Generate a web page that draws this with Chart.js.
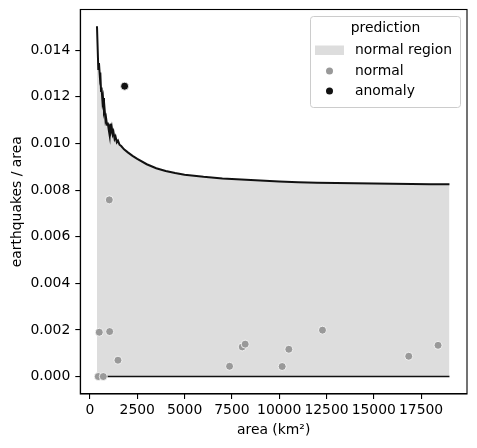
<!DOCTYPE html>
<html>
<head>
<meta charset="utf-8">
<script src="https://cdn.jsdelivr.net/npm/chart.js@4.4.1/dist/chart.umd.min.js"></script>
<style>
  body { margin: 0; background: #fff; }
</style>
</head>
<body>
<canvas id="myChart" width="477" height="448"></canvas>
<script>
// upper edge of the normal region (area, earthquakes / area)
const boundArea = [370, 440, 475, 520, 545, 585, 610, 660, 690, 740, 770, 820, 850, 900, 940, 990,
  1040, 1070, 1110, 1150, 1200, 1240, 1300, 1350, 1420, 1480, 1560, 1650, 1800, 2000, 2250, 2500,
  3000, 3500, 4000, 4500, 5000, 6000, 7000, 8000, 9000, 10000, 11000, 12000, 13000, 14000, 15000,
  16000, 17000, 18000, 19000];
const boundUpper = [0.01503, 0.0132, 0.01345, 0.0129, 0.01305, 0.01225, 0.0124, 0.0118, 0.01195,
  0.0114, 0.0115, 0.011, 0.0111, 0.0108, 0.0109, 0.0106, 0.01035, 0.01085, 0.01055, 0.0107, 0.0104,
  0.0105, 0.0102, 0.0103, 0.01005, 0.01012, 0.00995, 0.00989, 0.00975, 0.00962, 0.00947, 0.00934,
  0.00911, 0.00894, 0.00882, 0.00873, 0.00866, 0.00857, 0.0085, 0.00845, 0.00841, 0.00837, 0.00834,
  0.00832, 0.0083, 0.00829, 0.00828, 0.00827, 0.00826, 0.00825, 0.00825];
const lowerArea = [370, 19000];
const lowerValue = [0, 0];

const normalArea = [438, 703, 491, 1040, 1020, 1479, 7378, 8045, 8203, 10158, 10511, 12290, 16849, 18397];
const normalValue = [0, 0, 0.0019, 0.00193, 0.00758, 0.0007, 0.00044, 0.00127, 0.00139, 0.00043,
  0.00117, 0.00199, 0.00087, 0.00134];
const anomalyArea = [1831];
const anomalyValue = [0.01246];

const xTicks = [0, 2500, 5000, 7500, 10000, 12500, 15000, 17500];
const yTicks = [0, 0.002, 0.004, 0.006, 0.008, 0.01, 0.012, 0.014];

const toPoints = (xs, ys) => xs.map((x, i) => ({ x: x, y: ys[i] }));

const FONT = "'DejaVu Sans', sans-serif";
Chart.defaults.font.family = FONT;
Chart.defaults.font.size = 13.9;
Chart.defaults.color = "#000";

// full box round the axes
const frame = {
  id: "frame",
  afterDatasetsDraw(chart) {
    const a = chart.chartArea;
    const c = chart.ctx;
    c.save();
    c.strokeStyle = "#000";
    c.lineWidth = 1.1;
    c.strokeRect(a.left, a.top, a.right - a.left, a.bottom - a.top);
    c.restore();
  },
};

// legend inside the plot, top right
const legendBox = {
  id: "legendBox",
  afterDraw(chart) {
    const c = chart.ctx;
    const ds = chart.data.datasets;
    const x0 = 310.5, y0 = 16.5, w = 150, h = 91;
    c.save();
    c.fillStyle = "rgba(255,255,255,0.8)";
    c.strokeStyle = "#cccccc";
    c.lineWidth = 1;
    c.beginPath();
    c.roundRect(x0, y0, w, h, 3);
    c.fill();
    c.stroke();

    c.font = "13.9px " + FONT;
    c.fillStyle = "#000";
    c.textBaseline = "middle";
    c.textAlign = "center";
    c.fillText("prediction", x0 + w / 2, 28.5);

    c.textAlign = "left";
    // normal region patch
    c.fillStyle = ds[2].backgroundColor;
    c.fillRect(315, 45.5, 29, 9.5);
    c.fillStyle = "#000";
    c.fillText(ds[2].label, 355, 50);
    // normal / anomaly markers
    [[0, 71], [1, 91]].forEach(([i, y]) => {
      c.beginPath();
      c.arc(329.5, y, 3.5, 0, Math.PI * 2);
      c.fillStyle = ds[i].backgroundColor;
      c.fill();
      c.fillStyle = "#000";
      c.fillText(ds[i].label, 355, y);
    });
    c.restore();
  },
};

const ctx = document.getElementById("myChart").getContext("2d");

const myChart = new Chart(ctx, {
  type: "scatter",
  data: {
    datasets: [
      {
        label: "normal",
        data: toPoints(normalArea, normalValue),
        backgroundColor: "#999999",
        borderColor: "#ffffff",
        borderWidth: 0.8,
        pointRadius: 4,
        order: 0,
      },
      {
        label: "anomaly",
        data: toPoints(anomalyArea, anomalyValue),
        backgroundColor: "#111111",
        borderColor: "#ffffff",
        borderWidth: 0.8,
        pointRadius: 4,
        order: 0,
      },
      {
        type: "line",
        label: "normal region",
        data: toPoints(boundArea, boundUpper),
        borderColor: "#111111",
        backgroundColor: "#dddddd",
        borderWidth: 2,
        pointRadius: 0,
        tension: 0,
        fill: "origin",
        order: 2,
      },
      {
        type: "line",
        label: "lower",
        data: toPoints(lowerArea, lowerValue),
        borderColor: "#111111",
        borderWidth: 1.5,
        pointRadius: 0,
        fill: false,
        order: 1,
      },
    ],
  },
  options: {
    responsive: false,
    animation: false,
    events: [],
    layout: { padding: { top: 9.5, right: 10, left: 0, bottom: 0 } },
    plugins: {
      legend: { display: false },
      tooltip: { enabled: false },
    },
    scales: {
      x: {
        type: "linear",
        min: -512,
        max: 19928,
        afterBuildTicks: (s) => { s.ticks = xTicks.map((v) => ({ value: v })); },
        afterFit: (s) => { s.height = 54; s.paddingLeft = 0; s.paddingRight = 0; },
        ticks: { callback: (v) => String(v), padding: 3.4, maxRotation: 0, autoSkip: false },
        grid: { drawOnChartArea: false, tickLength: 5, color: "#000", lineWidth: 1.1 },
        border: { color: "#000", width: 1.1 },
        title: { display: true, text: "area (km²)", padding: { top: 0, bottom: 9.7 } },
      },
      y: {
        min: -0.00075,
        max: 0.01575,
        afterBuildTicks: (s) => { s.ticks = yTicks.map((v) => ({ value: v })); },
        afterFit: (s) => { s.width = 80.3; s.paddingTop = 0; s.paddingBottom = 0; },
        ticks: { callback: (v) => v.toFixed(3), padding: 5, autoSkip: false },
        grid: { drawOnChartArea: false, tickLength: 5, color: "#000", lineWidth: 1.1 },
        border: { color: "#000", width: 1.1 },
        title: { display: true, text: "earthquakes / area", padding: { top: 9, bottom: 0 } },
      },
    },
  },
  plugins: [frame, legendBox],
});
</script>
</body>
</html>
